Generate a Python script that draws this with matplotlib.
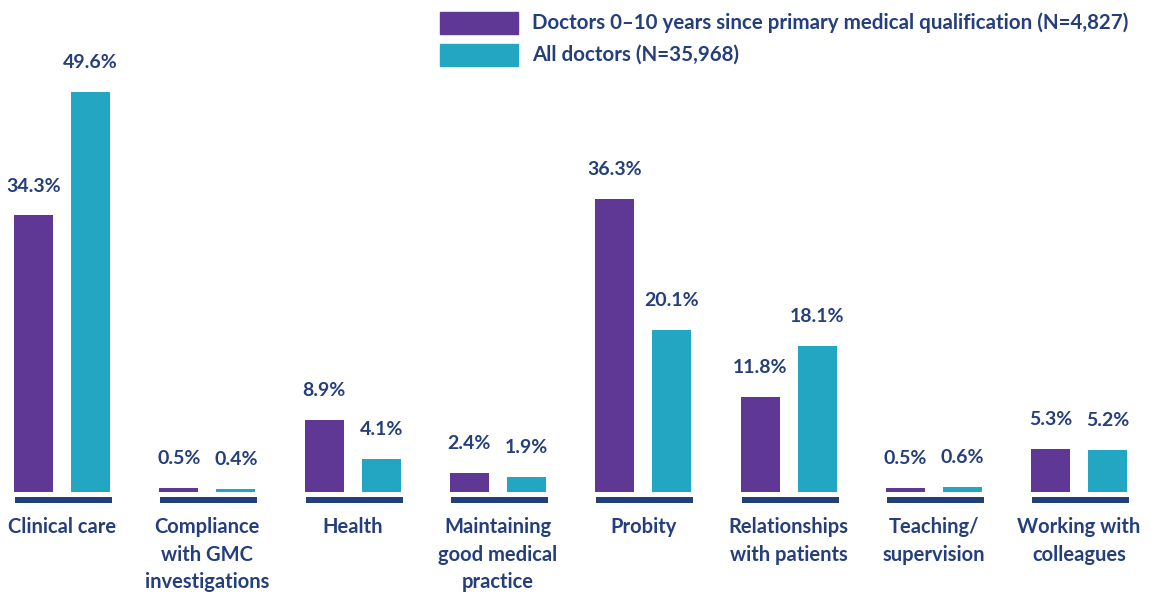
import matplotlib
matplotlib.use("Agg")
import matplotlib.pyplot as plt
from matplotlib.patches import Rectangle

categories = [
    "Clinical care",
    "Compliance\nwith GMC\ninvestigations",
    "Health",
    "Maintaining\ngood medical\npractice",
    "Probity",
    "Relationships\nwith patients",
    "Teaching/\nsupervision",
    "Working with\ncolleagues",
]
early_career = [34.3, 0.5, 8.9, 2.4, 36.3, 11.8, 0.5, 5.3]
all_doctors = [49.6, 0.4, 4.1, 1.9, 20.1, 18.1, 0.6, 5.2]
series_labels = [
    "Doctors 0\u201310 years since primary medical qualification (N=4,827)",
    "All doctors (N=35,968)",
]

PURPLE = "#5E3894"
TEAL = "#23A6C1"
NAVY = "#22407A"
TEXT = "#243F7B"
FONT = ["Lato", "DejaVu Sans"]

W, H = 1158, 594
SPACING = 145.3      # px between category centres
FIRST = 62.0         # px, centre of first group
BASE = 492.0         # px from top where bars start
PX_PER = 400.0 / 49.6

fig = plt.figure(figsize=(W / 100, H / 100), dpi=100)
ax = fig.add_axes([0, 0, 1, 1])
ax.set_xlim(-FIRST / SPACING, (W - FIRST) / SPACING)
ax.set_ylim(-(H - BASE) / PX_PER, BASE / PX_PER)
ax.axis("off")

bw = 39 / SPACING
off = 28.5 / SPACING
x = list(range(len(categories)))

ax.bar([i - off for i in x], early_career, width=bw, color=PURPLE)
ax.bar([i + off for i in x], all_doctors, width=bw, color=TEAL)

# navy baseline under each pair
ax.bar([i + 1.5 / SPACING for i in x], [6 / PX_PER] * len(x), width=97 / SPACING,
       bottom=-11 / PX_PER, color=NAVY)

for i in x:
    for xv, v in ((i - off, early_career[i]), (i + off, all_doctors[i])):
        ax.annotate(f"{v}%", (xv, v), xytext=(0, 15), textcoords="offset points",
                    ha="center", va="bottom", fontsize=14, fontweight="bold",
                    color=TEXT, family=FONT)
    ax.text(i, -(517 - BASE) / PX_PER, categories[i], ha="center", va="top",
            fontsize=14.5, fontweight="bold", color=TEXT, family=FONT,
            linespacing=1.48)

# legend
for k, (lab, col) in enumerate(zip(series_labels, [PURPLE, TEAL])):
    y0 = 12 + 32 * k
    fig.patches.append(Rectangle((440 / W, 1 - (y0 + 22) / H), 78 / W, 22 / H,
                                 transform=fig.transFigure, color=col))
    fig.text(532 / W, 1 - (y0 + 11) / H, lab, ha="left", va="center",
             fontsize=14.8, fontweight="bold", color=TEXT, family=FONT)

fig.savefig("out.png", dpi=100)
